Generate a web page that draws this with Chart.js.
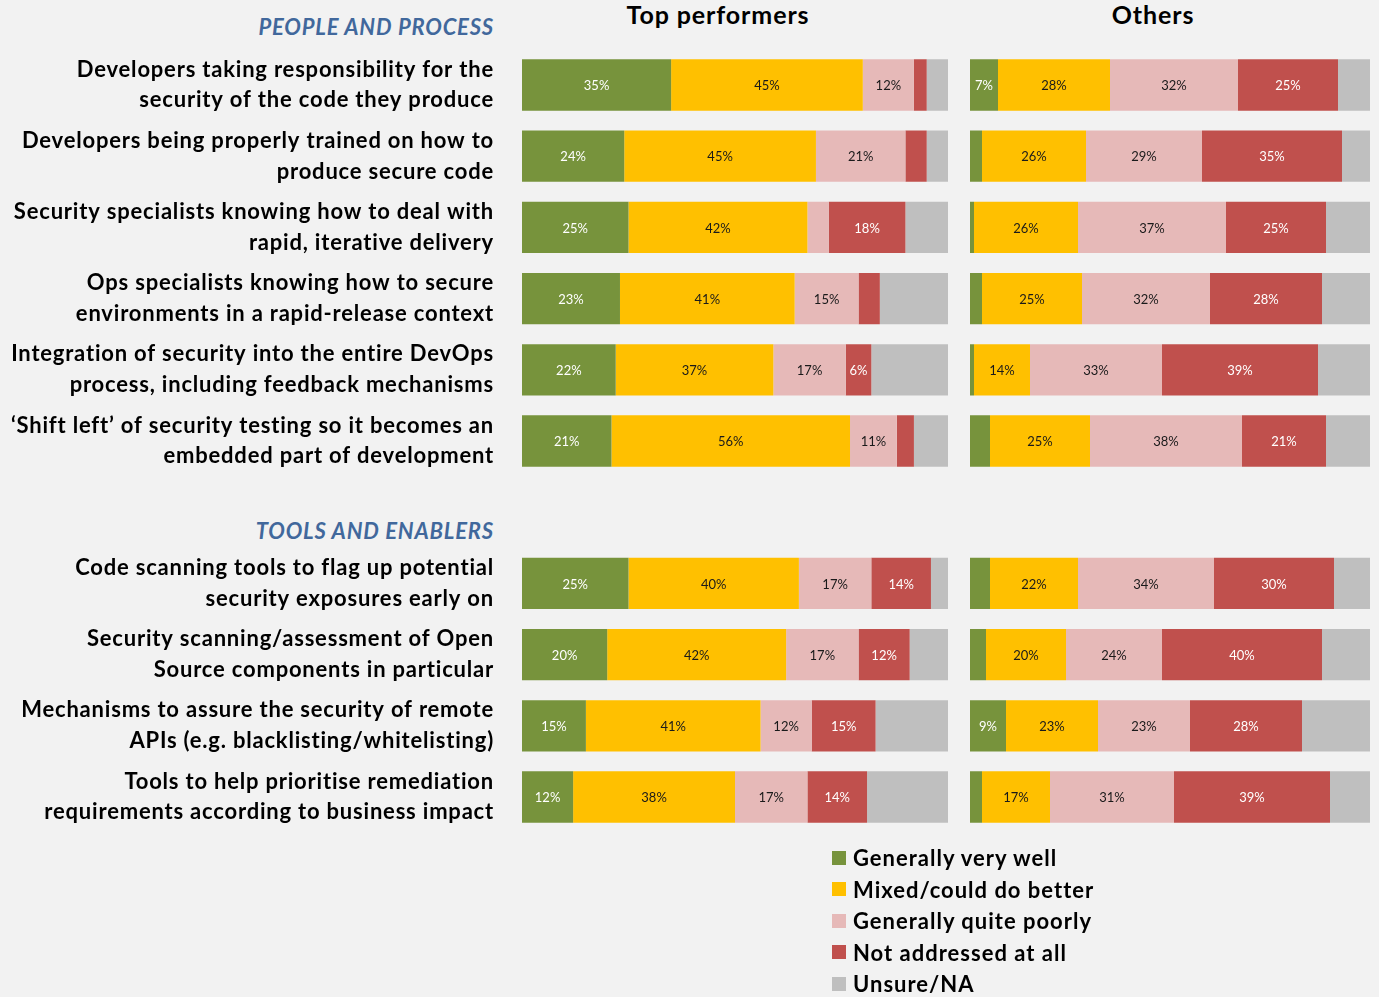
<!DOCTYPE html>
<html>
<head>
<meta charset="utf-8">
<script src="https://cdn.jsdelivr.net/npm/chart.js@4.4.1/dist/chart.umd.min.js"></script>
<style>
  html, body { margin: 0; padding: 0; background: #f2f2f2; }
  body { width: 1379px; height: 997px; position: relative; overflow: hidden; font-family: Lato, "Open Sans", sans-serif; }
  .cv { position: absolute; top: 0; }
  .head { position: absolute; white-space: nowrap; font-weight: bold; font-style: italic; color: #41689c; font-size: 22px; letter-spacing: 0.8px; text-align: right; right: 885px; }
  .ptitle { position: absolute; white-space: nowrap; font-weight: bold; font-size: 25px; letter-spacing: 0.9px; color: #000; transform: translateX(-50%); top: -1px; }
  #legend { position: absolute; left: 832px; top: 842px; }
  .lg { display: flex; align-items: center; height: 31.5px; font-weight: bold; font-size: 22px; letter-spacing: 1px; color: #000; white-space: nowrap; }
  .lg span.sw { display: inline-block; width: 14px; height: 14px; margin-right: 7px; }
</style>
</head>
<body>
<div class="ptitle" style="left:718px">Top performers</div>
<div class="ptitle" style="left:1153px">Others</div>
<div class="head" style="top:13px">PEOPLE AND PROCESS</div>
<div class="head" style="top:517px">TOOLS AND ENABLERS</div>
<canvas id="left" class="cv" style="left:0px" width="960" height="997"></canvas>
<canvas id="right" class="cv" style="left:960px" width="419" height="997"></canvas>
<div id="legend"></div>
<script>
// ---- DATA ----
const categories = [
  ["Developers taking responsibility for the", "security of the code they produce"],
  ["Developers being properly trained on how to", "produce secure code"],
  ["Security specialists knowing how to deal with", "rapid, iterative delivery"],
  ["Ops specialists knowing how to secure", "environments in a rapid-release context"],
  ["Integration of security into the entire DevOps", "process, including feedback mechanisms"],
  ["\u2018Shift left\u2019 of security testing so it becomes an", "embedded part of development"],
  "",
  ["Code scanning tools to flag up potential", "security exposures early on"],
  ["Security scanning/assessment of Open", "Source components in particular"],
  ["Mechanisms to assure the security of remote", "APIs (e.g. blacklisting/whitelisting)"],
  ["Tools to help prioritise remediation", "requirements according to business impact"]
];
const seriesNames = ["Generally very well", "Mixed/could do better", "Generally quite poorly", "Not addressed at all", "Unsure/NA"];
const seriesColors = ["#77933c", "#ffc000", "#e6b9b8", "#c0504d", "#bfbfbf"];
const labelColors = ["#ffffff", "#1a1a1a", "#1a1a1a", "#ffffff", null];

const topVeryWell  = [35, 24, 25, 23, 22, 21, null, 25, 20, 15, 12];
const topMixed     = [45, 45, 42, 41, 37, 56, null, 40, 42, 41, 38];
const topPoorly    = [12, 21,  5, 15, 17, 11, null, 17, 17, 12, 17];
const topNot       = [ 3,  5, 18,  5,  6,  4, null, 14, 12, 15, 14];
const topUnsure    = [ 5,  5, 10, 16, 18,  8, null,  4,  9, 17, 19];

const othVeryWell  = [ 7,  3,  1,  3,  1,  5, null,  5,  4,  9,  3];
const othMixed     = [28, 26, 26, 25, 14, 25, null, 22, 20, 23, 17];
const othPoorly    = [32, 29, 37, 32, 33, 38, null, 34, 24, 23, 31];
const othNot       = [25, 35, 25, 28, 39, 21, null, 30, 40, 28, 39];
const othUnsure    = [ 8,  7, 11, 12, 13, 11, null,  9, 12, 17, 10];

const LABEL_MIN = 6;

// ---- build ----
function makeDatasets(arrs) {
  return arrs.map((d, i) => ({
    label: seriesNames[i],
    data: d,
    backgroundColor: seriesColors[i],
    borderWidth: 0,
    barPercentage: 0.72,
    categoryPercentage: 1.0
  }));
}

const spacing = {
  id: 'spacing',
  beforeDraw(chart) { chart.ctx.letterSpacing = '0.8px'; }
};

const valueLabels = {
  id: 'valueLabels',
  afterDatasetsDraw(chart) {
    const ctx = chart.ctx;
    ctx.save();
    ctx.letterSpacing = '0px';
    ctx.font = '13px Lato, "Open Sans", sans-serif';
    ctx.textAlign = 'center';
    ctx.textBaseline = 'middle';
    chart.data.datasets.forEach((ds, di) => {
      if (!labelColors[di]) return;
      const meta = chart.getDatasetMeta(di);
      meta.data.forEach((el, i) => {
        const v = ds.data[i];
        if (v == null || v < LABEL_MIN) return;
        const p = el.getProps(['x', 'base', 'y'], true);
        ctx.fillStyle = labelColors[di];
        ctx.fillText(v + '%', (p.x + p.base) / 2, p.y + 1);
      });
    });
    ctx.restore();
  }
};

function makeChart(id, arrs, showY, pad) {
  return new Chart(document.getElementById(id), {
    type: 'bar',
    data: { labels: categories, datasets: makeDatasets(arrs) },
    options: {
      indexAxis: 'y',
      responsive: false,
      animation: false,
      layout: { padding: pad },
      plugins: { legend: { display: false }, tooltip: { enabled: false } },
      scales: {
        x: { stacked: true, min: 0, max: 100, display: false },
        y: {
          stacked: true,
          display: showY,
          grid: { display: false },
          border: { display: false },
          ticks: {
            padding: 20,
            color: '#000',
            font: { family: 'Lato, "Open Sans", sans-serif', size: 22, weight: 'bold', lineHeight: 1.4 }
          },
          afterFit(scale) {
            if (showY) scale.width = 522;
            scale.paddingTop = 0;
            scale.paddingBottom = 0;
          }
        }
      }
    },
    plugins: [spacing, valueLabels]
  });
}

makeChart('left', [topVeryWell, topMixed, topPoorly, topNot, topUnsure], true,
  { top: 49.4, bottom: 164.4, left: 0, right: 12 });
makeChart('right', [othVeryWell, othMixed, othPoorly, othNot, othUnsure], false,
  { top: 49.4, bottom: 164.4, left: 10, right: 9 });

// legend
const lg = document.getElementById('legend');
seriesNames.forEach((n, i) => {
  const row = document.createElement('div');
  row.className = 'lg';
  row.innerHTML = '<span class="sw" style="background:' + seriesColors[i] + '"></span>' + n;
  lg.appendChild(row);
});
</script>
</body>
</html>
